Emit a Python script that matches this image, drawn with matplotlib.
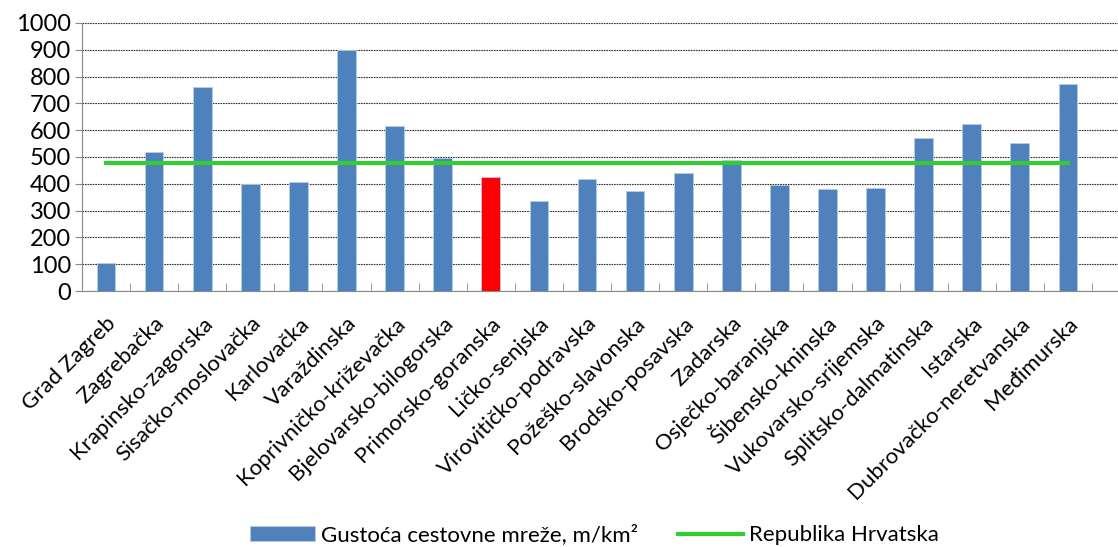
import matplotlib.pyplot as plt
import numpy as np

# Counties (zupanije) and road network density, m/km2
counties = ['Grad Zagreb', 'Zagrebačka', 'Krapinsko-zagorska', 'Sisačko-moslovačka',
            'Karlovačka', 'Varaždinska', 'Koprivničko-križevačka', 'Bjelovarsko-bilogorska',
            'Primorsko-goranska', 'Ličko-senjska', 'Virovitičko-podravska', 'Požeško-slavonska',
            'Brodsko-posavska', 'Zadarska', 'Osječko-baranjska', 'Šibensko-kninska',
            'Vukovarsko-srijemska', 'Splitsko-dalmatinska', 'Istarska',
            'Dubrovačko-neretvanska', 'Međimurska']
density = [106, 518, 762, 398, 408, 900, 614, 497, 427, 337, 418, 374, 442, 489,
           396, 379, 384, 571, 623, 551, 771]
croatia_avg = 479
highlight = 'Primorsko-goranska'

plt.rcParams['font.family'] = ['Lato', 'DejaVu Sans']

fig = plt.figure(figsize=(11.18, 5.47), dpi=100)
ax = fig.add_axes([0.0733, 0.468, 0.9267, 0.490])

x = np.arange(len(counties))
colors = ['#FF0000' if c == highlight else '#4F81BD' for c in counties]
bars = ax.bar(x, density, width=0.39, color=colors, edgecolor='#B9CDE5', linewidth=0.6,
              label='Gustoća cestovne mreže, m/km²', zorder=3)
line, = ax.plot(x, [croatia_avg] * len(x), color='#33CC33', linewidth=3,
                label='Republika Hrvatska', zorder=4)

ax.set_ylim(0, 1000)
ax.set_yticks(range(0, 1001, 100))
ax.set_xlim(-0.5, 21.04)
ax.yaxis.grid(True, color='#333333', linestyle=(0, (1.5, 0.8)), linewidth=0.8, zorder=0)

ax.set_xticks(x)
ax.set_xticklabels(counties, rotation=45, ha='right', rotation_mode='anchor', fontsize=16)
ax.set_xticks(np.arange(-0.5, 20.6, 1), minor=True)
ax.tick_params(axis='x', which='major', length=4, color='#888888', pad=16, direction='in')
ax.tick_params(axis='x', which='minor', length=6, color='#888888', direction='in')
ax.tick_params(axis='y', labelsize=17, length=5, color='#888888', pad=3)

for side in ['top', 'right']:
    ax.spines[side].set_visible(False)
for side in ['left', 'bottom']:
    ax.spines[side].set_color('#888888')

fig.legend(handles=[bars, line], loc='center', bbox_to_anchor=(0.532, 0.022), ncol=2,
           frameon=False, fontsize=16, handlelength=2.9, handletextpad=0.3,
           columnspacing=1.8)

fig.savefig('out.png', dpi=100)
